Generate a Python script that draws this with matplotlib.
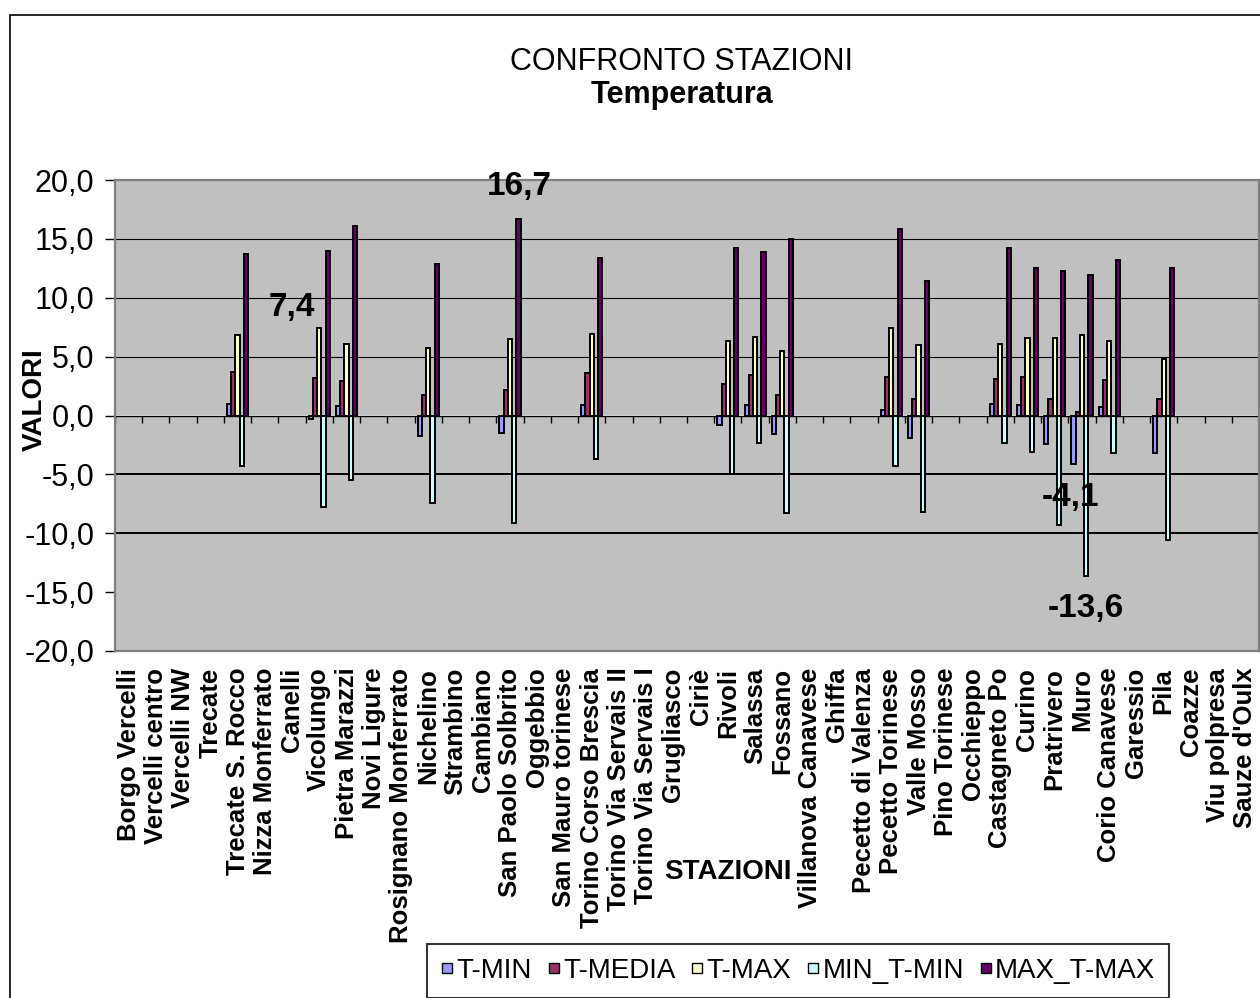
import numpy as np
import matplotlib
matplotlib.use("Agg")
import matplotlib.pyplot as plt
from matplotlib.patches import Rectangle
from matplotlib.lines import Line2D
from matplotlib.ticker import FuncFormatter

plt.rcParams['font.family'] = ['Liberation Sans', 'DejaVu Sans']

# Stations (category axis)
stations = [
    "Borgo Vercelli", "Vercelli centro", "Vercelli NW", "Trecate",
    "Trecate S. Rocco", "Nizza Monferrato", "Canelli", "Vicolungo",
    "Pietra Marazzi", "Novi Ligure", "Rosignano Monferrato", "Nichelino",
    "Strambino", "Cambiano", "San Paolo Solbrito", "Oggebbio",
    "San Mauro torinese", "Torino Corso Brescia", "Torino Via Servais II",
    "Torino Via Servais I", "Grugliasco", "Ciriè", "Rivoli", "Salassa",
    "Fossano", "Villanova Canavese", "Ghiffa", "Pecetto di Valenza",
    "Pecetto Torinese", "Valle Mosso", "Pino Torinese", "Occhieppo",
    "Castagneto Po", "Curino", "Pratrivero", "Muro", "Corio Canavese",
    "Garessio", "Pila", "Coazze", "Viu polpresa", "Sauze d'Oulx",
]

# Temperature values per station (None = no data)
t_min = [None, None, None, None, 1.0, None, None, -0.3, 0.8, None, None, -1.7,
         None, None, -1.5, None, None, 0.9, None, None, None, None, -0.8, 0.9,
         -1.6, None, None, None, 0.5, -1.9, None, None, 1.0, 0.9, -2.4, -4.1,
         0.7, None, -3.2, None, None, None]
t_media = [None, None, None, None, 3.7, None, None, 3.2, 2.9, None, None, 1.7,
           None, None, 2.2, None, None, 3.6, None, None, None, None, 2.7, 3.4,
           1.7, None, None, None, 3.3, 1.4, None, None, 3.1, 3.3, 1.4, 0.3,
           3.0, None, 1.4, None, None, None]
t_max = [None, None, None, None, 6.8, None, None, 7.4, 6.1, None, None, 5.7,
         None, None, 6.5, None, None, 6.9, None, None, None, None, 6.3, 6.7,
         5.5, None, None, None, 7.4, 6.0, None, None, 6.1, 6.6, 6.6, 6.8,
         6.3, None, 4.8, None, None, None]
min_t_min = [None, None, None, None, -4.3, None, None, -7.8, -5.5, None, None, -7.4,
             None, None, -9.1, None, None, -3.7, None, None, None, None, -5.0, -2.3,
             -8.3, None, None, None, -4.3, -8.2, None, None, -2.3, -3.1, -9.3, -13.6,
             -3.2, None, -10.6, None, None, None]
max_t_max = [None, None, None, None, 13.7, None, None, 14.0, 16.1, None, None, 12.9,
             None, None, 16.7, None, None, 13.4, None, None, None, None, 14.2, 13.9,
             15.0, None, None, None, 15.8, 11.4, None, None, 14.2, 12.5, 12.3, 11.9,
             13.2, None, 12.5, None, None, None]

series_names = ["T-MIN", "T-MEDIA", "T-MAX", "MIN_T-MIN", "MAX_T-MAX"]
series_values = [t_min, t_media, t_max, min_t_min, max_t_max]
series_colors = ["#9999FF", "#993366", "#FFFFCC", "#CCFFFF", "#660066"]

# Values that carry a data label: (series index, station) -> text offset in points
label_offsets = {(4, "San Paolo Solbrito"): (1, 23), (2, "Vicolungo"): (-20, 15),
                 (0, "Muro"): (-2, -24), (3, "Muro"): (0, -24)}

W, H = 1260, 998
fig = plt.figure(figsize=(W / 100, H / 100), dpi=100)
fig.patch.set_facecolor("white")

# chart-area frame
fig.add_artist(Rectangle((10 / W, -0.2), 1.3, 1.2 - 15 / H, transform=fig.transFigure,
                         fill=False, edgecolor="black", linewidth=1.2, clip_on=False))

ax = fig.add_axes([115 / W, 1 - 651 / H, 1144 / W, 471 / H])
ax.set_facecolor("#C0C0C0")

n = len(stations)
x = np.arange(n)
bar_w = 0.155

ymin, ymax = -20, 20
ax.set_ylim(ymin, ymax)
ax.set_xlim(-0.5, n - 0.5)

# horizontal gridlines
for g, lw in [(15, 0.8), (10, 0.8), (5, 0.8), (-5, 1.4), (-10, 1.4)]:
    ax.axhline(g, color="black", linewidth=lw, zorder=1)

containers = []
for k, (name, vals, col) in enumerate(zip(series_names, series_values, series_colors)):
    v = np.array([np.nan if a is None else a for a in vals], dtype=float)
    bc = ax.bar(x + (k - 2) * bar_w, v, width=bar_w, color=col, edgecolor="black",
                linewidth=1.4, label=name, zorder=3)
    containers.append(bc)

# data labels
for (k, st), off in label_offsets.items():
    i = stations.index(st)
    val = series_values[k][i]
    rect = containers[k].patches[i]
    xc = rect.get_x() + rect.get_width() / 2
    ax.annotate(f"{val:.1f}".replace(".", ","), xy=(xc, val),
                xytext=off, textcoords="offset points",
                ha="center", va="center", fontsize=24, fontweight="bold", zorder=5)

# y axis
ax.set_yticks(np.arange(ymin, ymax + 1, 5))
ax.yaxis.set_major_formatter(FuncFormatter(lambda v, p: f"{v:.1f}".replace(".", ",")))
ax.tick_params(axis="y", direction="out", length=7, width=1, color="black",
               labelsize=22, pad=8)

# category labels along the bottom edge
ax.set_xticks(x)
ax.set_xticklabels(stations, rotation=90, fontsize=18.5, fontweight="bold")
ax.tick_params(axis="x", length=0, pad=12)

for sp in ax.spines.values():
    sp.set_color("#808080")
    sp.set_linewidth(1.6)

# category axis line crossing at zero, with boundary tick marks
sec = ax.secondary_xaxis(0, transform=ax.transData)
sec.set_alignment("bottom")
sec.set_xticks(np.arange(n + 1) - 0.5)
sec.tick_params(axis="x", direction="out", length=5, width=1, color="black",
                labelbottom=False, labeltop=False)
sec.spines["bottom"].set_color("black")
sec.spines["bottom"].set_linewidth(1.0)

# axis titles
ax.set_ylabel("VALORI", fontsize=20, fontweight="bold")
ax.yaxis.set_label_coords((35 - 115) / 1144, (651 - 400) / 471)
ax.yaxis.label.set_va("center")
ax.set_xlabel("STAZIONI", fontsize=20, fontweight="bold")
ax.xaxis.set_label_coords((728 - 115) / 1144, (651 - 872) / 471)
ax.xaxis.label.set_va("center")

# chart title
fig.text(682 / W, 1 - 70 / H, "CONFRONTO STAZIONI", ha="center", va="baseline",
         fontsize=22)
fig.text(682 / W, 1 - 103 / H, "Temperatura", ha="center", va="baseline",
         fontsize=22, fontweight="bold")

# legend with small square keys
keys = [Line2D([], [], linestyle="none", marker="s", markersize=7,
               markerfacecolor=c, markeredgecolor="black", markeredgewidth=1.0)
        for c in series_colors]
leg = fig.legend(handles=keys, labels=series_names, loc="upper left",
                 bbox_to_anchor=(427 / W, 1 - 944 / H), bbox_transform=fig.transFigure,
                 ncol=5, fontsize=20, frameon=True, fancybox=False, borderaxespad=0,
                 handlelength=0.45, handletextpad=0.12,
                 columnspacing=0.55, borderpad=0.5)
leg.get_frame().set_edgecolor("black")
leg.get_frame().set_linewidth(1.5)

fig.savefig("out.png", dpi=100)
